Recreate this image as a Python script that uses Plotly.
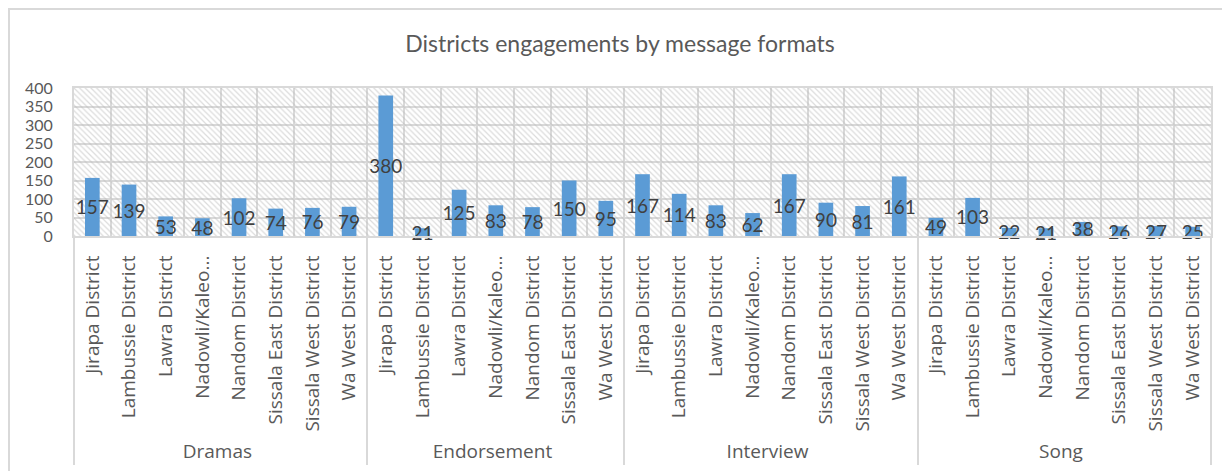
import plotly.graph_objects as go

# message formats (outer category) and districts (inner category)
formats = ['Dramas'] * 8 + ['Endorsement'] * 7 + ['Interview'] * 8 + ['Song'] * 8
districts = [
    'Jirapa District', 'Lambussie District', 'Lawra District', 'Nadowli/Kaleo...',
    'Nandom District', 'Sissala East District', 'Sissala West District', 'Wa West District',
    'Jirapa District', 'Lambussie District', 'Lawra District', 'Nadowli/Kaleo...',
    'Nandom District', 'Sissala East District', 'Wa West District',
    'Jirapa District', 'Lambussie District', 'Lawra District', 'Nadowli/Kaleo...',
    'Nandom District', 'Sissala East District', 'Sissala West District', 'Wa West District',
    'Jirapa District', 'Lambussie District', 'Lawra District', 'Nadowli/Kaleo...',
    'Nandom District', 'Sissala East District', 'Sissala West District', 'Wa West District',
]
dramas = [157, 139, 53, 48, 102, 74, 76, 79]
endorsement = [380, 21, 125, 83, 78, 150, 95]
interview = [167, 114, 83, 62, 167, 90, 81, 161]
song = [49, 103, 22, 21, 38, 26, 27, 25]
values = dramas + endorsement + interview + song

y_max = 400
y_ticks = list(range(0, 401, 50))

font_family = 'Lato, Open Sans, sans-serif'
label_family = 'Open Sans, Lato, sans-serif'
grey_text = '#595959'
grid = '#d9d9d9'

fig = go.Figure()

# hatched plot-area background (Excel pattern fill)
fig.add_trace(go.Bar(
    x=[formats, districts],
    y=[y_max] * len(values),
    width=1,
    marker=dict(color='rgba(0,0,0,0)',
                line=dict(width=0),
                pattern=dict(shape='\\', fgcolor='#b8b8b8', size=4,
                             solidity=0.3, fillmode='overlay')),
    hoverinfo='skip',
    showlegend=False,
))

fig.add_trace(go.Bar(
    x=[formats, districts],
    y=values,
    width=0.4,
    marker=dict(color='#5B9BD5', line=dict(width=0)),
    text=values,
    textposition='inside',
    insidetextanchor='middle',
    textangle=0,
    constraintext='none',
    cliponaxis=False,
    textfont=dict(family=font_family, size=19, color='#404040'),
    showlegend=False,
))

# the page body adds an 8px offset, so margins are set 8px smaller
fig.update_layout(
    title=dict(text='Districts engagements by message formats',
               x=0.4976, xref='container', xanchor='center',
               y=1 - 36 / 471, yref='container', yanchor='middle',
               font=dict(family=font_family, size=23, color=grey_text)),
    barmode='overlay',
    width=1230,
    height=471,
    margin=dict(l=66, r=27, t=80, b=243, autoexpand=False),
    paper_bgcolor='white',
    plot_bgcolor='white',
    font=dict(family=font_family, color=grey_text),
    xaxis=dict(
        type='multicategory',
        tickangle=-90,
        tickson='boundaries',
        showgrid=True,
        gridcolor=grid,
        gridwidth=2,
        showline=True,
        linecolor=grid,
        linewidth=2,
        mirror=True,
        showdividers=True,
        dividercolor=grid,
        dividerwidth=2,
        ticks='',
        ticklabelstandoff=10,
        tickfont=dict(family=label_family, size=19, color=grey_text),
    ),
    yaxis=dict(
        range=[0, y_max],
        tickvals=y_ticks,
        showgrid=True,
        gridcolor=grid,
        gridwidth=2,
        zeroline=False,
        showline=True,
        linecolor=grid,
        linewidth=2,
        mirror=True,
        ticks='',
        ticklabelstandoff=16,
        tickfont=dict(family=font_family, size=16, color=grey_text),
    ),
    # outer chart border
    shapes=[dict(type='rect', xref='paper', yref='paper',
                 x0=-65 / 1137, x1=1.05, y0=-1.7, y1=1 + 79 / 148,
                 line=dict(color='#d9d9d9', width=2), layer='below')],
)

fig.write_html('out.html')
